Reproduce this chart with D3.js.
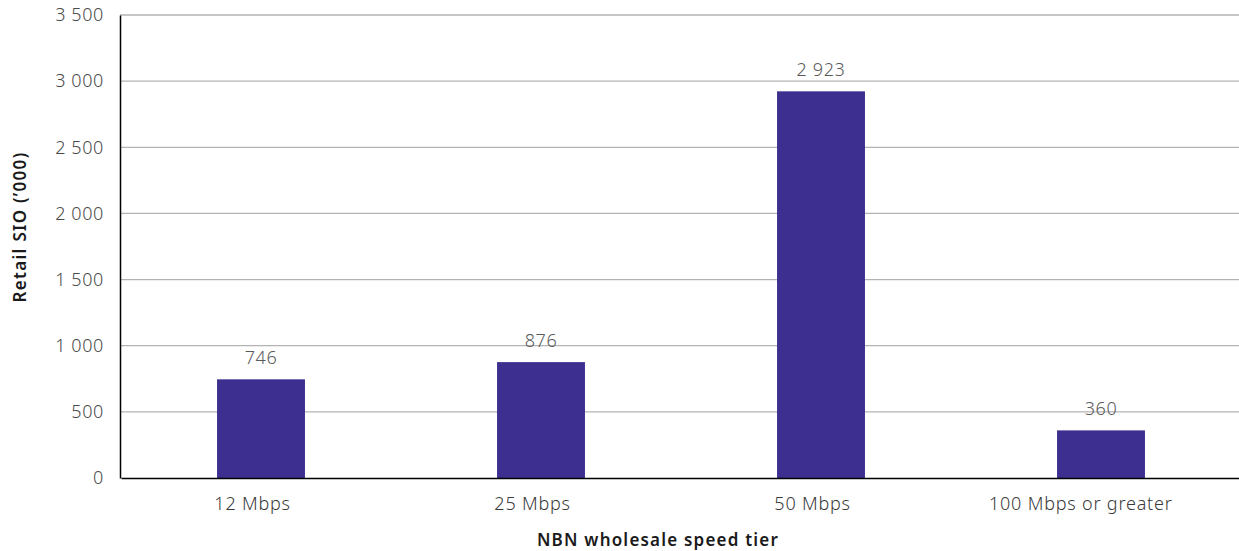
<!DOCTYPE html>
<html>
<head>
<meta charset="utf-8">
<script src="https://cdn.jsdelivr.net/npm/d3@7"></script>
<style>
  body { margin: 0; background: #fff; }
  text { font-family: "Noto Sans", sans-serif; }
</style>
</head>
<body>
<div id="chart"></div>
<script>
// chart data
const tiers = ["12 Mbps", "25 Mbps", "50 Mbps", "100 Mbps or greater"];
const sio = [746, 876, 2923, 360];
const yTicks = [0, 500, 1000, 1500, 2000, 2500, 3000, 3500];

const width = 1239, height = 551;
const margin = { top: 15, right: 0, bottom: 73, left: 120 };

const spaced = v => d3.format(",")(v).replace(",", " ");

const svg = d3.select("#chart").append("svg")
  .attr("width", width)
  .attr("height", height);

const x = d3.scaleBand()
  .domain(tiers)
  .range([margin.left + 1, width + 2])
  .paddingInner(0.686)
  .paddingOuter(0.343);

const y = d3.scaleLinear()
  .domain([0, 3500])
  .range([height - margin.bottom, margin.top]);

// gridlines
svg.append("g")
  .selectAll("line")
  .data(yTicks.filter(d => d > 0))
  .join("line")
  .attr("x1", margin.left)
  .attr("x2", width)
  .attr("y1", d => y(d))
  .attr("y2", d => y(d))
  .attr("stroke", "#b3b3b3")
  .attr("stroke-width", 1.3);

// bars
svg.append("g")
  .selectAll("rect")
  .data(tiers)
  .join("rect")
  .attr("x", d => x(d))
  .attr("width", x.bandwidth())
  .attr("y", (d, i) => y(sio[i]))
  .attr("height", (d, i) => y(0) - y(sio[i]))
  .attr("fill", "#3c2f8f");

// value labels
svg.append("g")
  .selectAll("text")
  .data(tiers)
  .join("text")
  .attr("x", d => x(d) + x.bandwidth() / 2)
  .attr("y", (d, i) => y(sio[i]) - 15)
  .attr("text-anchor", "middle")
  .attr("font-size", 18)
  .attr("font-weight", 300)
  .attr("letter-spacing", 0.6)
  .attr("fill", "#5a5a5a")
  .text((d, i) => spaced(sio[i]));

// y axis
const yAxis = svg.append("g")
  .attr("transform", `translate(${margin.left},0)`)
  .call(d3.axisLeft(y).tickValues(yTicks).tickSize(0).tickPadding(16).tickFormat(spaced));
yAxis.select(".domain").attr("stroke", "#000").attr("stroke-width", 1.5);
yAxis.selectAll("text").attr("font-size", 18).attr("font-weight", 300)
  .attr("letter-spacing", 0.6).attr("fill", "#4a4a4a")
  .style("font-family", "'Noto Sans', sans-serif");

// x axis
const xAxis = svg.append("g")
  .attr("transform", `translate(0,${y(0)})`)
  .call(d3.axisBottom(x).tickSize(0).tickPadding(19));
xAxis.select(".domain").attr("stroke", "#000").attr("stroke-width", 1.5);
xAxis.selectAll("text").attr("font-size", 18).attr("font-weight", 300)
  .attr("letter-spacing", 0.8).attr("fill", "#3a3a3a")
  .style("font-family", "'Noto Sans', sans-serif")
  // the original labels sit a little left of the bar centres
  .attr("dx", function () { return -0.11 * this.getComputedTextLength(); });

// axis titles
svg.append("text")
  .attr("transform", "translate(26,227) rotate(-90)")
  .attr("text-anchor", "middle")
  .attr("font-size", 17)
  .attr("font-weight", 600)
  .attr("letter-spacing", 1.3)
  .attr("fill", "#1a1a1a")
  .text("Retail SIO (\u2019000)");

svg.append("text")
  .attr("x", 658)
  .attr("y", 546)
  .attr("text-anchor", "middle")
  .attr("font-size", 17)
  .attr("font-weight", 600)
  .attr("letter-spacing", 1.2)
  .attr("fill", "#1a1a1a")
  .text("NBN wholesale speed tier");
</script>
</body>
</html>
